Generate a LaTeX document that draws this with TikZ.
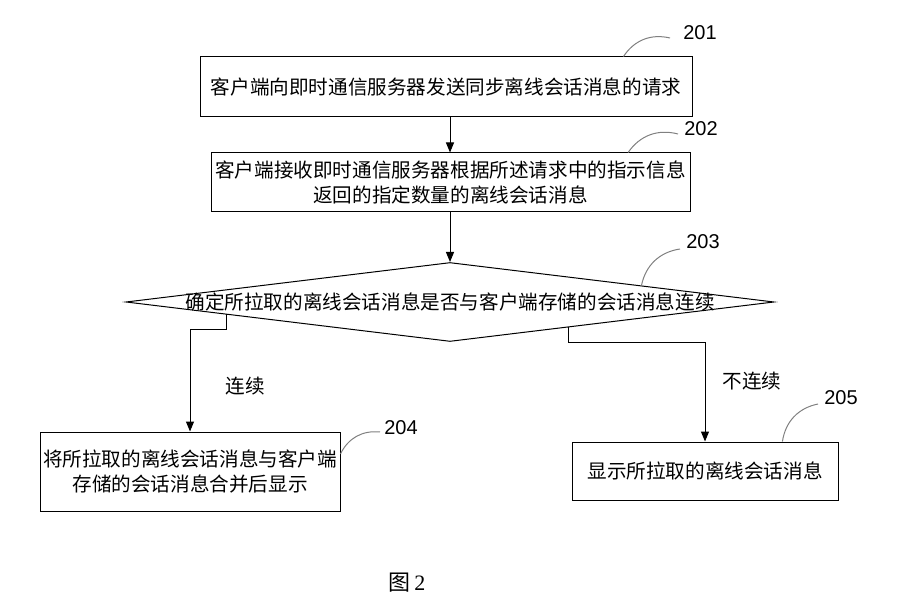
\documentclass[tikz,border=0pt]{standalone}
\usepackage{fontspec}
\setmainfont{Liberation Sans}
\newfontfamily\cjk{Noto Sans CJK SC}
\newfontfamily\serif{Liberation Serif}
\usetikzlibrary{arrows.meta, positioning, shapes.geometric, calc}

\begin{document}
\begin{tikzpicture}[x=0.5pt, y=-0.5pt, line width=0.5pt,
    every node/.style={font=\cjk\fontsize{9.8}{12.5}\selectfont},
    stepbox/.style={draw, rectangle, inner sep=0pt, align=center},
    arr/.style={-{Triangle[length=5pt, width=4pt]}},
    tag/.style={draw=gray},
    num/.style={font=\fontsize{10}{12}\selectfont}]

    \useasboundingbox (0,0) rectangle (899,614);

    % Draw the boxes
    \node[stepbox, minimum width=246pt, minimum height=30pt] (b201) at (446,87)
        {客户端向即时通信服务器发送同步离线会话消息的请求};
    \node[stepbox, minimum width=239.5pt, minimum height=29.5pt] (b202) at (450.5,182.5)
        {客户端接收即时通信服务器根据所述请求中的指示信息\\返回的指定数量的离线会话消息};
    \node[draw, diamond, minimum width=324pt, minimum height=39.5pt, inner sep=0pt] (d203) at (450,302) {};
    \node (t203) at (d203.center) {确定所拉取的离线会话消息是否与客户端存储的会话消息连续};
    \node[stepbox, minimum width=150pt, minimum height=39.5pt] (b204) at (190,471.5)
        {将所拉取的离线会话消息与客户端\\存储的会话消息合并后显示};
    \node[stepbox, minimum width=133pt, minimum height=29pt] (b205) at (705,471)
        {显示所拉取的离线会话消息};

    % Draw the arrows
    \draw[arr] (b201.south -| d203.north) -- (b202.north -| d203.north);
    \draw[arr] (b202.south -| d203.north) -- (d203.north);
    \coordinate (lft) at ($(d203.west)!0.31!(d203.south)$);
    \coordinate (rgt) at ($(d203.east)!0.635!(d203.south)$);
    \draw[arr] (lft) -- ++(0,15) -| (b204.north);
    \draw[arr] (rgt) -- ++(0,15) -| (b205.north);

    \node (yes) at (245,386) {连续};
    \node (no) at (752,381) {不连续};

    % Step numbers
    \node[num] (n201) at (700,33) {201};
    \node[num] (n202) at (701,129) {202};
    \node[num] (n203) at (703,242) {203};
    \node[num] (n204) at (401,428) {204};
    \node[num] (n205) at (841,398) {205};

    \draw[tag] ($(b201.north west)!0.86!(b201.north east)$) to[bend left=35] (670,38);
    \draw[tag] ($(b202.north west)!0.87!(b202.north east)$) to[bend left=35] (678,134);
    \draw[tag] ($(d203.north)!0.59!(d203.east)$) to[bend left=35] (680,249);
    \draw[tag] ($(b204.north east)!0.28!(b204.south east)$) to[bend left=35] (380,432);
    \draw[tag] ($(b205.north west)!0.79!(b205.north east)$) to[bend left=35] (818,404);

    \node[font=\fontsize{11}{13}\selectfont] (cap) at (407,583) {\cjk 图\,\serif 2};
\end{tikzpicture}
\end{document}
